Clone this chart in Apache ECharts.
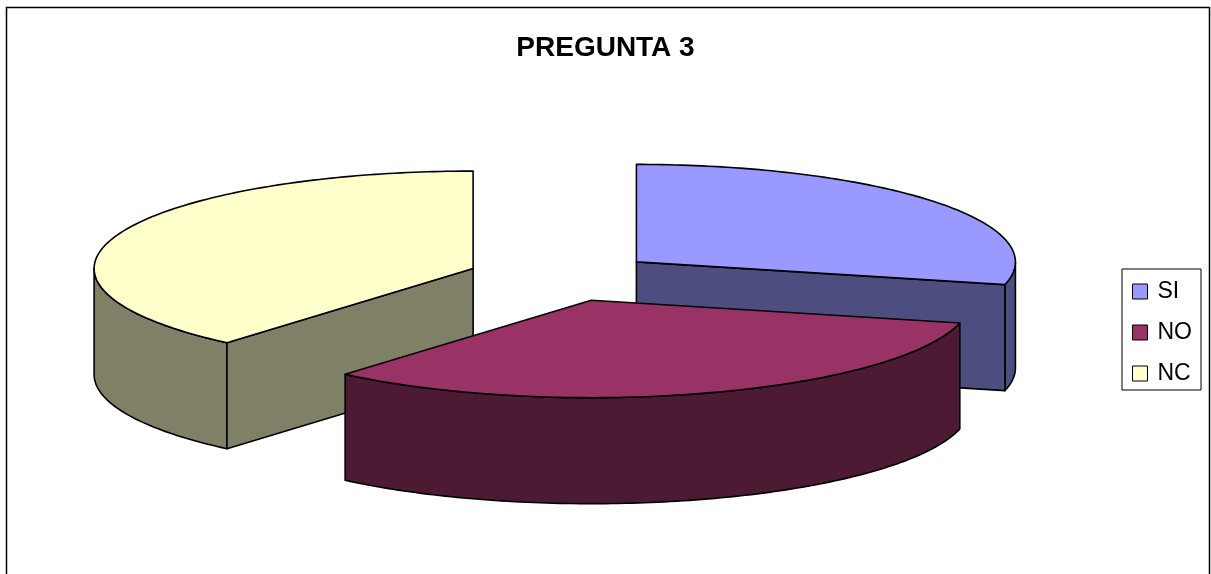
<!DOCTYPE html>
<html>
<head>
<meta charset="utf-8">
<script src="https://cdn.jsdelivr.net/npm/echarts@6/dist/echarts.min.js"></script>
<style>
html,body{margin:0;padding:0;background:#fff;}
#c{width:1211px;height:574px;}
</style>
</head>
<body>
<div id="c"></div>
<script>
// ---- data ----
const titleText = 'PREGUNTA 3';
const categories = ['SI', 'NO', 'NC'];
const values = [23, 26, 31];

// ---- styles / layout ----
const topColors = ['#9999FF', '#993366', '#FFFFCC'];
const sideColors = ['#4D4D80', '#4D1A33', '#808066'];
const PIE = { cx: 562, cy: 277, rx: 379, ry: 97.5, depth: 106, explode: 0.25 };
const FONT = '"Liberation Sans", Arial, sans-serif';

const total = values.reduce((s, v) => s + v, 0);
const starts = [];
let acc = 0;
values.forEach(v => { starts.push(acc / total * 360); acc += v; });
const rad = d => d * Math.PI / 180;

function midAngle(i) { return starts[i] + values[i] / total * 180; }

function makeRender(i) {
  return function (params, api) {
    const v = api.value(0);
    const a1 = starts[i];
    const a2 = a1 + v / total * 360;
    const mid = (a1 + a2) / 2;
    const ox = PIE.cx + PIE.explode * PIE.rx * Math.sin(rad(mid));
    const oy = PIE.cy - PIE.explode * PIE.ry * Math.cos(rad(mid));
    const P = (a, dz) => [ox + PIE.rx * Math.sin(rad(a)), oy - PIE.ry * Math.cos(rad(a)) + dz];
    const arc = (from, to, dz) => {
      const n = Math.max(2, Math.ceil(Math.abs(to - from)));
      const pts = [];
      for (let k = 0; k <= n; k++) pts.push(P(from + (to - from) * k / n, dz));
      return pts;
    };
    const D = PIE.depth;
    const base = { stroke: '#000', lineWidth: 1.6, lineJoin: 'round' };
    const children = [];
    // outer curved side (front half only: 90..270)
    const lo = Math.max(a1, 90), hi = Math.min(a2, 270);
    if (hi > lo) {
      const pts = arc(lo, hi, 0).concat(arc(hi, lo, D));
      children.push({ type: 'polygon', shape: { points: pts },
        style: Object.assign({ fill: sideColors[i] }, base), z2: 1 });
    }
    const O = [ox, oy], Ob = [ox, oy + D];
    // start cut face
    if (Math.sin(rad(a1)) < -1e-6) {
      children.push({ type: 'polygon', shape: { points: [O, P(a1, 0), P(a1, D), Ob] },
        style: Object.assign({ fill: sideColors[i] }, base), z2: 1 });
    }
    // end cut face
    if (Math.sin(rad(a2)) > 1e-6) {
      children.push({ type: 'polygon', shape: { points: [O, P(a2, 0), P(a2, D), Ob] },
        style: Object.assign({ fill: sideColors[i] }, base), z2: 1 });
    }
    // top face
    children.push({ type: 'polygon', shape: { points: [O].concat(arc(a1, a2, 0)) },
      style: Object.assign({ fill: topColors[i] }, base), z2: 2 });
    return { type: 'group', children: children };
  };
}

// draw order: back slices first
const order = categories.map((c, i) => i).sort((a, b) => (-Math.cos(rad(midAngle(a)))) - (-Math.cos(rad(midAngle(b)))));
const rank = {};
order.forEach((idx, r) => { rank[idx] = r; });

const series = categories.map((name, i) => ({
  type: 'custom',
  name: name,
  coordinateSystem: 'none',
  silent: true,
  z: 2 + rank[i],
  itemStyle: { color: topColors[i] },
  data: [[values[i]]],
  renderItem: makeRender(i)
}));

const chart = echarts.init(document.getElementById('c'), null, { renderer: 'canvas' });
chart.setOption({
  animation: false,
  backgroundColor: '#fff',
  color: topColors,
  title: {
    text: titleText,
    left: 'center',
    top: 29,
    textStyle: { fontFamily: FONT, fontWeight: 'bold', fontSize: 28, color: '#000' }
  },
  legend: {
    orient: 'vertical',
    left: 1122,
    top: 269,
    padding: [11, 9, 5, 10],
    itemWidth: 15,
    itemHeight: 15,
    itemGap: 18,
    icon: 'rect',
    selectedMode: false,
    borderColor: '#000',
    borderWidth: 1,
    itemStyle: { borderColor: '#000', borderWidth: 1 },
    textStyle: { fontFamily: FONT, fontSize: 23, color: '#000', lineHeight: 23, padding: [0, 0, 0, 5] },
    data: categories
  },
  graphic: [{
    type: 'rect',
    silent: true,
    z: 100,
    shape: { x: 6.5, y: 7.5, width: 1203, height: 620 },
    style: { fill: 'none', stroke: '#000', lineWidth: 1.5 }
  }],
  series: series
});
</script>
</body>
</html>
